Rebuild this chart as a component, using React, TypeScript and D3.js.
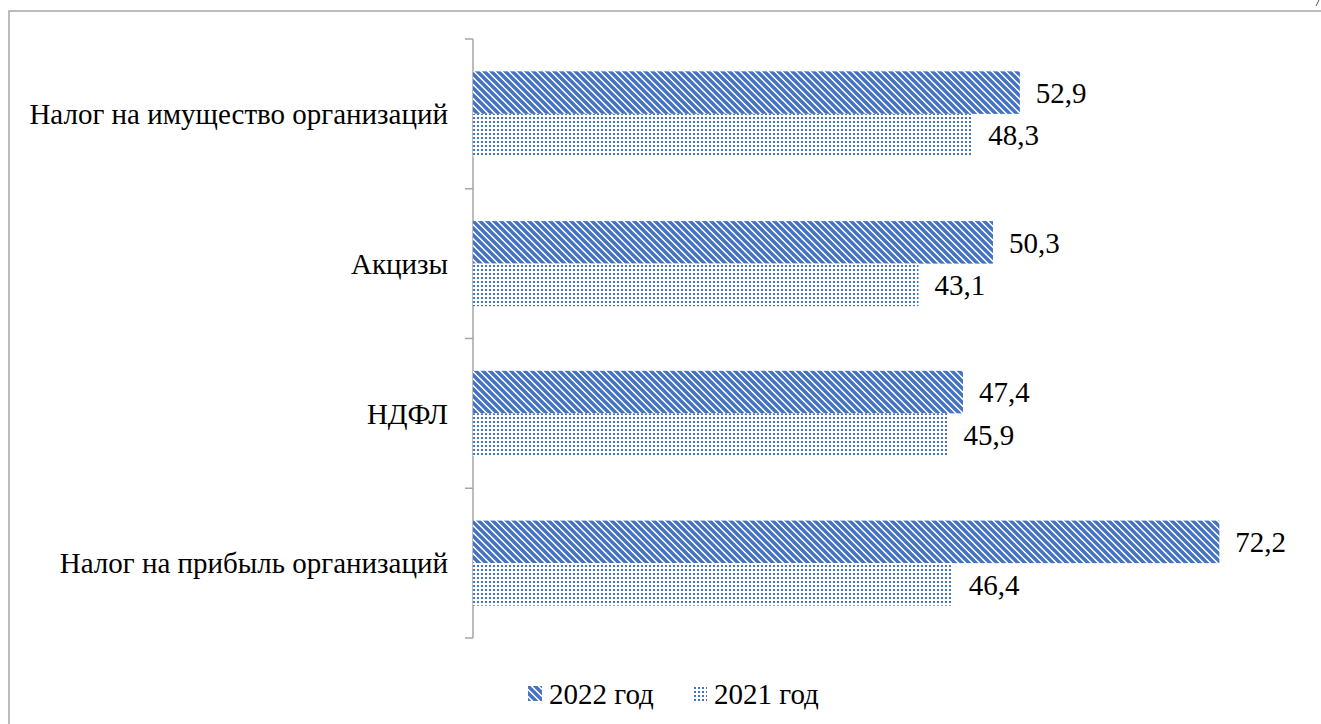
import React, { useEffect, useRef } from "react";
import * as d3 from "d3";

// Данные диаграммы
const categories = [
	"Налог на имущество организаций",
	"Акцизы",
	"НДФЛ",
	"Налог на прибыль организаций",
];
const seriesNames = ["2022 год", "2021 год"];
const values2022 = [52.9, 50.3, 47.4, 72.2];
const values2021 = [48.3, 43.1, 45.9, 46.4];
const xDomainMax = 80;

const BLUE = "#4472C4";
const AXIS = "#A6A6A6";
const FONT = "Liberation Serif, Tinos, Times New Roman, DejaVu Serif, serif";

export default function App() {
	const svgRef = useRef<SVGSVGElement | null>(null);

	useEffect(() => {
		if (!svgRef.current) return;
		const svg = d3.select(svgRef.current);
		svg.selectAll("*").remove();

		const width = 1321;
		const height = 724;
		svg.attr("width", width).attr("height", height).style("font-family", FONT);

		// Узоры заливки
		const defs = svg.append("defs");
		const stripe = defs
			.append("pattern")
			.attr("id", "p2022")
			.attr("patternUnits", "userSpaceOnUse")
			.attr("width", 7)
			.attr("height", 7);
		stripe.append("rect").attr("width", 7).attr("height", 7).attr("fill", "#fff");
		stripe
			.append("path")
			.attr("d", "M-1,-1 L8,8 M-4.5,2.5 L1,8 M2.5,-4.5 L8,1")
			.attr("stroke", BLUE)
			.attr("stroke-width", 3.4);

		const dots = defs
			.append("pattern")
			.attr("id", "p2021")
			.attr("patternUnits", "userSpaceOnUse")
			.attr("width", 4)
			.attr("height", 4);
		dots.append("rect").attr("width", 4).attr("height", 4).attr("fill", "#fff");
		dots
			.append("rect")
			.attr("x", 1)
			.attr("y", 1)
			.attr("width", 2)
			.attr("height", 2)
			.attr("fill", BLUE);

		const fills = ["url(#p2022)", "url(#p2021)"];
		const seriesValues = [values2022, values2021];

		// Рамка области диаграммы
		svg
			.append("path")
			.attr("d", `M9,${height + 5} L9,11 L${width + 5},11`)
			.attr("fill", "none")
			.attr("stroke", AXIS)
			.attr("stroke-width", 1.5);
		svg
			.append("path")
			.attr("d", "M1316,6 L1319,0")
			.attr("stroke", "#555")
			.attr("stroke-width", 1);

		// Шкалы
		const axisX = 473;
		const x = d3.scaleLinear().domain([0, xDomainMax]).range([axisX, 1300]);
		const y0 = d3.scaleBand<string>().domain(categories).range([39, 638]).padding(0);
		const y1 = d3
			.scaleBand<string>()
			.domain(seriesNames)
			.range([0, y0.bandwidth()])
			.paddingInner(0)
			.paddingOuter(0.76);

		// Ось категорий
		const axisG = svg.append("g").attr("transform", `translate(${axisX},0)`);
		axisG
			.append("line")
			.attr("x1", 0)
			.attr("x2", 0)
			.attr("y1", 39)
			.attr("y2", 638)
			.attr("stroke", AXIS)
			.attr("stroke-width", 1.5);
		const bounds = [...categories.map((c) => y0(c) as number), 638];
		axisG
			.selectAll(".bound")
			.data(bounds)
			.enter()
			.append("line")
			.attr("x1", -8)
			.attr("x2", 0)
			.attr("y1", (d) => d)
			.attr("y2", (d) => d)
			.attr("stroke", AXIS)
			.attr("stroke-width", 1.5);

		// Подписи категорий
		svg
			.append("g")
			.selectAll("text")
			.data(categories)
			.enter()
			.append("text")
			.attr("x", axisX - 25)
			.attr("y", (d) => (y0(d) as number) + y0.bandwidth() / 2)
			.attr("dy", "0.35em")
			.attr("text-anchor", "end")
			.attr("font-size", 29)
			.attr("fill", "#000")
			.text((d) => d);

		// Столбцы
		const fmt = (v: number) => v.toFixed(1).replace(".", ",");
		seriesNames.forEach((s, si) => {
			const g = svg.append("g");
			const rows = categories.map((c, i) => ({ c, v: seriesValues[si][i] }));
			g.selectAll("rect")
				.data(rows)
				.enter()
				.append("rect")
				.attr("x", x(0))
				.attr("y", (d) => (y0(d.c) as number) + (y1(s) as number))
				.attr("width", (d) => x(d.v) - x(0))
				.attr("height", y1.bandwidth())
				.attr("fill", fills[si]);
			g.selectAll("text")
				.data(rows)
				.enter()
				.append("text")
				.attr("x", (d) => x(d.v) + 16)
				.attr("y", (d) => (y0(d.c) as number) + (y1(s) as number) + y1.bandwidth() / 2)
				.attr("dy", "0.35em")
				.attr("font-size", 29)
				.attr("fill", "#000")
				.text((d) => fmt(d.v));
		});

		// Легенда
		const legendX = [528, 693];
		const legend = svg
			.append("g")
			.selectAll("g")
			.data(seriesNames)
			.enter()
			.append("g")
			.attr("transform", (_, i) => `translate(${legendX[i]},686)`);
		legend
			.append("rect")
			.attr("width", 14)
			.attr("height", 15)
			.attr("fill", (_, i) => fills[i]);
		legend
			.append("text")
			.attr("x", 21)
			.attr("y", 7.5)
			.attr("dy", "0.35em")
			.attr("font-size", 29)
			.attr("fill", "#000")
			.text((d) => d);
	}, []);

	return (
		<div style={{ position: "fixed", left: 0, top: 0, width: 1321, height: 724, background: "#fff" }}>
			<svg ref={svgRef} style={{ display: "block" }}></svg>
		</div>
	);
}
